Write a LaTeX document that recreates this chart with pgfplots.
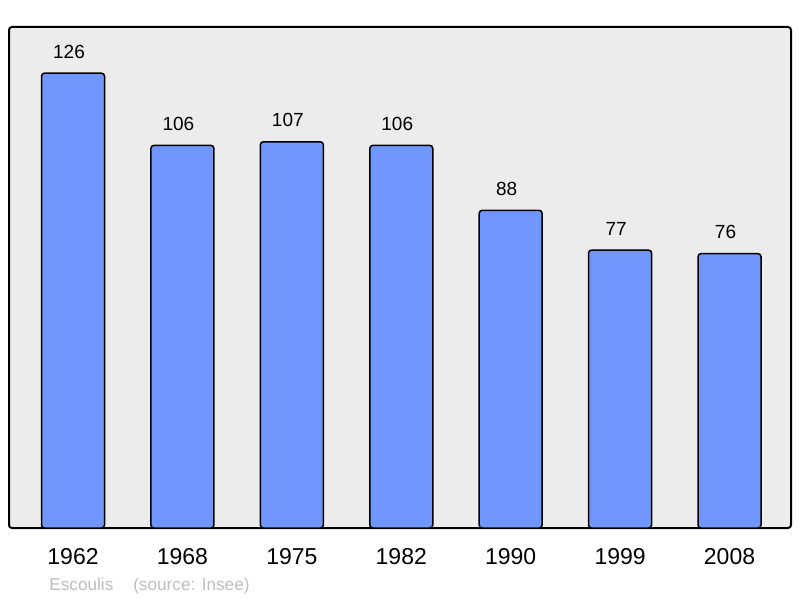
\documentclass[border=0pt]{standalone}
\usepackage{fontspec}
\setmainfont{Liberation Sans}
\usepackage{pgfplots}
\pgfplotsset{compat=1.18}
\definecolor{barblue}{RGB}{112,150,255}
\definecolor{bggray}{RGB}{236,236,236}
\definecolor{srcgray}{RGB}{190,190,190}

\begin{document}
\begin{tikzpicture}
  \begin{axis}[
    scale only axis,
    width=391bp,
    height=250.5bp,
    ybar,
    bar width=31.5bp,
    xmin=-0.585, xmax=6.562,
    ymin=0, ymax=138.8,
    axis background/.style={fill=bggray},
    axis line style={line width=1bp, rounded corners=1.5bp},
    xtick=data,
    xticklabels={1962,1968,1975,1982,1990,1999,2008},
    xtick style={draw=none},
    ytick=\empty,
    xticklabel style={font=\fontsize{11.5bp}{13bp}\selectfont, anchor=base, inner sep=0pt, yshift=-14bp},
    nodes near coords,
    every node near coord/.append style={font=\fontsize{9.5bp}{11bp}\selectfont, anchor=base, inner sep=0pt, yshift=7.5bp, xshift=-2bp},
    /pgf/number format/assume math mode=true,
    clip=false,
  ]
  \addplot[fill=barblue, draw=black, line width=0.75bp, rounded corners=1.5bp] coordinates {
    (0,126) (1,106) (2,107) (3,106) (4,88) (5,77) (6,76)
  };
  \node[anchor=base west, inner sep=0pt, text=srcgray, font=\fontsize{8.6bp}{10bp}\selectfont]
    at ([yshift=-31.3bp]rel axis cs:0.0511,0) {Escoulis};
  \node[anchor=base west, inner sep=0pt, text=srcgray, font=\fontsize{8.6bp}{10bp}\selectfont]
    at ([yshift=-31.3bp]rel axis cs:0.1584,0) {(source: Insee)};
  \coordinate (bl) at ([xshift=-4.5bp, yshift=-35bp]rel axis cs:0,0);
  \coordinate (tr) at ([xshift=4.5bp, yshift=13.5bp]rel axis cs:1,1);
  \end{axis}
  \pgfresetboundingbox
  \path[use as bounding box] (bl) rectangle (tr);
\end{tikzpicture}
\end{document}
